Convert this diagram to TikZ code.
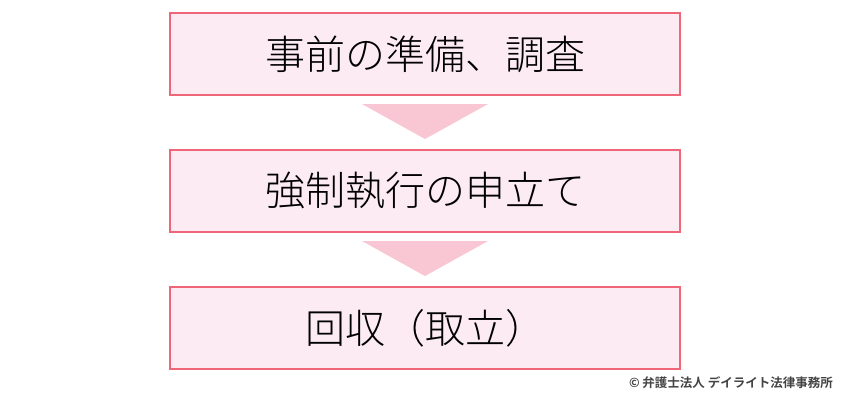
\documentclass[tikz,border=0pt]{standalone}
\usepackage{fontspec}
\newfontfamily\cjk[UprightFont=* Light, BoldFont=* Bold]{Noto Sans CJK JP}
\definecolor{boxedge}{HTML}{EE6677}
\definecolor{boxfill}{HTML}{FDEBF3}
\definecolor{arrowfill}{HTML}{F9C6D3}
\definecolor{credit}{HTML}{444444}
\tikzset{
  stepbox/.style={draw=boxedge, line width=2.6pt, fill=boxfill, minimum width=510pt, minimum height=82pt, inner sep=0pt, font=\cjk\fontsize{40}{42}\selectfont},
  downtri/.style={fill=arrowfill, draw=none}
}
\begin{document}
\begin{tikzpicture}[x=1pt,y=-1pt]
\useasboundingbox (0,0) rectangle (850,400);
\node[stepbox] (s1) at (425,54) {事前の準備、調査};
\node[stepbox] (s2) at (425,191) {強制執行の申立て};
\node[stepbox] (s3) at (425,328) {回収（取立）};
\coordinate (a1l) at (362,104);
\coordinate (a1r) at (488,104);
\coordinate (a1t) at (425,139);
\fill[downtri] (a1l) -- (a1r) -- (a1t) -- cycle;
\coordinate (a2l) at (362,241);
\coordinate (a2r) at (488,241);
\coordinate (a2t) at (425,276);
\fill[downtri] (a2l) -- (a2r) -- (a2t) -- cycle;
\node[anchor=east, text=credit, font=\cjk\bfseries\fontsize{12.5}{14}\selectfont, inner sep=0pt] (cr) at (833,383) {© 弁護士法人 デイライト法律事務所};
\end{tikzpicture}
\end{document}
